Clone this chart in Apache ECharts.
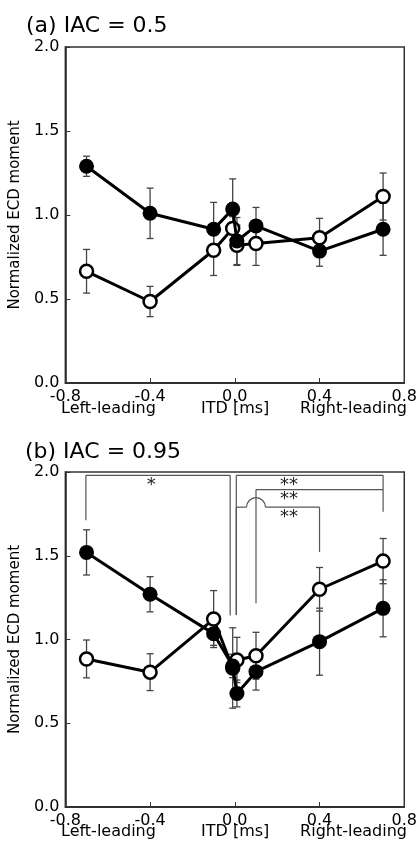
<!DOCTYPE html>
<html>
<head>
<meta charset="utf-8">
<script src="https://cdn.jsdelivr.net/npm/echarts@6/dist/echarts.min.js"></script>
<style>html,body{margin:0;padding:0;background:#fff}#c{width:420px;height:847px}</style>
</head>
<body>
<div id="c"></div>
<script>
// ---- data ----
const itd = [-0.7, -0.4, -0.1, -0.01, 0.01, 0.1, 0.4, 0.7];
const xTicks = ['-0.8', '-0.4', '0.0', '0.4', '0.8'];
const yTicks = ['0.0', '0.5', '1.0', '1.5', '2.0'];

const aFilled = [1.29, 1.01, 0.915, 1.035, 0.845, 0.935, 0.785, 0.915];
const aFilledErr = [0.06, 0.15, 0.16, 0.18, 0.14, 0.11, 0.09, 0.155];
const aOpen = [0.665, 0.485, 0.79, 0.92, 0.82, 0.83, 0.865, 1.11];
const aOpenErr = [0.13, 0.09, 0.15, 0.07, 0.12, 0.13, 0.115, 0.14];

const bFilled = [1.52, 1.27, 1.035, 0.842, 0.678, 0.808, 0.987, 1.186];
const bFilledErr = [0.135, 0.105, 0.07, 0.07, 0.08, 0.11, 0.2, 0.17];
const bOpen = [0.884, 0.805, 1.122, 0.83, 0.878, 0.903, 1.30, 1.468];
const bOpenErr = [0.113, 0.11, 0.17, 0.24, 0.135, 0.14, 0.13, 0.135];

// significance brackets (panel b), in data units
const brLevel = [1.98, 1.98, 1.895, 1.79];
const brLeftX = [-0.703, 0.007, 0.1, 0.007];
const brRightX = [-0.022, 0.7, 0.7, 0.4];
const brLeftEnd = [1.712, 1.146, 1.216, 1.146];
const brRightEnd = [1.143, 1.762, 1.895, 1.523];
const brJumpX = [null, null, null, 0.1];
const brLabel = ['*', '**', '**', '**'];
const brLabelX = [-0.395, 0.256, 0.256, 0.256];

const FONT = 'DejaVu Sans';

function pairs(xs, ys) { return xs.map((x, i) => [x, ys[i]]); }
function errData(xs, ys, es) { return xs.map((x, i) => [x, ys[i] - es[i], ys[i] + es[i]]); }

function errSeries(idx, data) {
  return {
    type: 'custom', xAxisIndex: idx, yAxisIndex: idx, z: 1, silent: true,
    data: data,
    renderItem: function (params, api) {
      const lo = api.coord([api.value(0), api.value(1)]);
      const hi = api.coord([api.value(0), api.value(2)]);
      const w = 3.5;
      const st = { stroke: '#444', lineWidth: 1.3 };
      return { type: 'group', children: [
        { type: 'line', shape: { x1: lo[0], y1: lo[1], x2: hi[0], y2: hi[1] }, style: st },
        { type: 'line', shape: { x1: lo[0] - w, y1: lo[1], x2: lo[0] + w, y2: lo[1] }, style: st },
        { type: 'line', shape: { x1: hi[0] - w, y1: hi[1], x2: hi[0] + w, y2: hi[1] }, style: st }
      ]};
    }
  };
}

function lineSeries(idx, data, filled) {
  return {
    type: 'line', xAxisIndex: idx, yAxisIndex: idx, z: filled ? 4 : 3,
    data: data, symbol: 'circle', symbolSize: filled ? 15 : 13,
    showAllSymbol: true, animation: false, silent: true,
    lineStyle: { color: '#000', width: 3 },
    itemStyle: filled ? { color: '#000', borderWidth: 0 } : { color: '#fff', borderColor: '#000', borderWidth: 2.5 }
  };
}

function xAxis(idx) {
  return {
    type: 'value', gridIndex: idx, min: -0.8, max: 0.8, interval: 0.4,
    axisLine: { show: true, onZero: false, lineStyle: { color: '#222', width: 1.5 } },
    axisTick: { show: true, inside: true, length: 5, lineStyle: { color: '#333', width: 1 } },
    splitLine: { show: false },
    axisLabel: { margin: 6, color: '#000', fontSize: 16, fontFamily: FONT,
      formatter: function (v) { return xTicks[Math.round((v + 0.8) / 0.4)]; } }
  };
}
function yAxis(idx) {
  return {
    type: 'value', gridIndex: idx, min: 0, max: 2, interval: 0.5,
    name: 'Normalized ECD moment', nameLocation: 'middle', nameGap: 33,
    nameTextStyle: { fontSize: 15, fontFamily: FONT, color: '#000' },
    axisLine: { show: true, onZero: false, lineStyle: { color: '#222', width: 1.5 } },
    axisTick: { show: true, inside: true, length: 5, lineStyle: { color: '#333', width: 1 } },
    splitLine: { show: false },
    axisLabel: { margin: 6, color: '#000', fontSize: 16, fontFamily: FONT,
      formatter: function (v) { return yTicks[Math.round(v / 0.5)]; } }
  };
}

const bracketSeries = {
  type: 'custom', xAxisIndex: 1, yAxisIndex: 1, z: 0, silent: true,
  data: brLevel.map((v, i) => [i]),
  renderItem: function (params, api) {
    const i = api.value(0);
    const L = api.coord([brLeftX[i], brLevel[i]]);
    const R = api.coord([brRightX[i], brLevel[i]]);
    const Lb = api.coord([brLeftX[i], brLeftEnd[i]]);
    const Rb = api.coord([brRightX[i], brRightEnd[i]]);
    const st = { stroke: '#555', lineWidth: 1.2, fill: null };
    const ch = [
      { type: 'line', shape: { x1: L[0], y1: L[1], x2: Lb[0], y2: Lb[1] }, style: st },
      { type: 'line', shape: { x1: R[0], y1: R[1], x2: Rb[0], y2: Rb[1] }, style: st }
    ];
    if (brJumpX[i] !== null) {
      const J = api.coord([brJumpX[i], brLevel[i]]);
      const r = 9.5;
      ch.push({ type: 'line', shape: { x1: L[0], y1: L[1], x2: J[0] - r, y2: J[1] }, style: st });
      ch.push({ type: 'line', shape: { x1: J[0] + r, y1: J[1], x2: R[0], y2: R[1] }, style: st });
      ch.push({ type: 'arc', shape: { cx: J[0], cy: J[1], r: r, startAngle: Math.PI, endAngle: 2 * Math.PI, clockwise: true }, style: st });
    } else {
      ch.push({ type: 'line', shape: { x1: L[0], y1: L[1], x2: R[0], y2: R[1] }, style: st });
    }
    const T = api.coord([brLabelX[i], brLevel[i]]);
    ch.push({ type: 'text', x: T[0], y: T[1] + 1, style: { text: brLabel[i], textAlign: 'center', textVerticalAlign: 'top', fontSize: 18, fontFamily: FONT, fill: '#222' } });
    return { type: 'group', children: ch };
  }
};

const txt = { fontSize: 16, fontFamily: FONT, fill: '#000' };
const chart = echarts.init(document.getElementById('c'), null, { renderer: 'canvas' });
chart.setOption({
  animation: false,
  title: [
    { text: '(a) IAC = 0.5', left: 21, top: 10, textStyle: { fontSize: 22, fontWeight: 'normal', fontFamily: FONT, color: '#000' } },
    { text: '(b) IAC = 0.95', left: 20, top: 436, textStyle: { fontSize: 22, fontWeight: 'normal', fontFamily: FONT, color: '#000' } }
  ],
  grid: [
    { left: 61, right: 13, top: 47, height: 336, show: true, borderColor: '#333', borderWidth: 1.5, backgroundColor: 'transparent' },
    { left: 61, right: 13, top: 472, height: 335, show: true, borderColor: '#333', borderWidth: 1.5, backgroundColor: 'transparent' }
  ],
  xAxis: [xAxis(0), xAxis(1)],
  yAxis: [yAxis(0), yAxis(1)],
  graphic: [
    { type: 'text', left: 61, top: 401, style: Object.assign({ text: 'Left-leading' }, txt) },
    { type: 'text', left: 201, top: 401, style: Object.assign({ text: 'ITD [ms]' }, txt) },
    { type: 'text', right: 13, top: 401, style: Object.assign({ text: 'Right-leading' }, txt) },
    { type: 'text', left: 61, top: 824, style: Object.assign({ text: 'Left-leading' }, txt) },
    { type: 'text', left: 201, top: 824, style: Object.assign({ text: 'ITD [ms]' }, txt) },
    { type: 'text', right: 13, top: 824, style: Object.assign({ text: 'Right-leading' }, txt) }
  ],
  series: [
    errSeries(0, errData(itd, aOpen, aOpenErr)),
    errSeries(0, errData(itd, aFilled, aFilledErr)),
    lineSeries(0, pairs(itd, aOpen), false),
    lineSeries(0, pairs(itd, aFilled), true),
    bracketSeries,
    errSeries(1, errData(itd, bOpen, bOpenErr)),
    errSeries(1, errData(itd, bFilled, bFilledErr)),
    lineSeries(1, pairs(itd, bOpen), false),
    lineSeries(1, pairs(itd, bFilled), true)
  ]
});
</script>
</body>
</html>
